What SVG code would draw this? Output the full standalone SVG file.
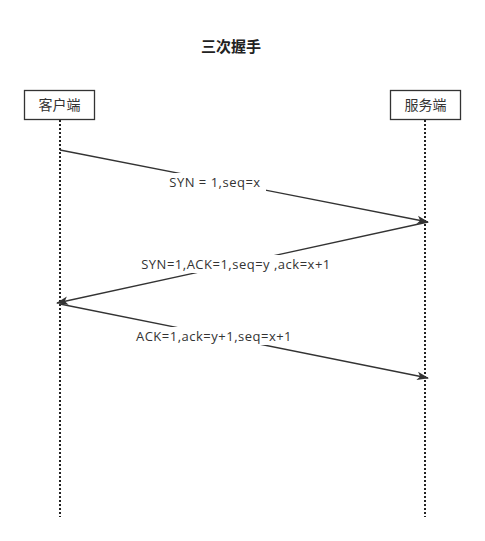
<svg xmlns="http://www.w3.org/2000/svg" width="485" height="541" viewBox="0 0 485 541">
<style>
.box{fill:#fff;stroke:#333;stroke-width:1.3}
.life{stroke:#222;stroke-width:2;stroke-dasharray:2 2;fill:none}
.msg{stroke:#333;stroke-width:1.3;fill:none;marker-end:url(#ah)}
.t{font-family:"Open Sans","Noto Sans","Noto Sans CJK SC",sans-serif;font-size:13px;letter-spacing:0.5px;fill:#333;text-anchor:middle}
.n{font-family:"Noto Sans CJK SC",sans-serif;font-size:14px;fill:#333;text-anchor:middle}
.lbl{fill:#fff}
.title{font-family:"Noto Sans CJK SC",sans-serif;font-size:15px;font-weight:bold;fill:#222;text-anchor:middle}
</style>
<defs>
<marker id="ah" viewBox="0 0 12 10" refX="11" refY="5" markerWidth="12" markerHeight="10" markerUnits="userSpaceOnUse" orient="auto">
<path d="M0,0.8 L12,5 L0,9.2 L3,5 Z" fill="#333"/>
</marker>
</defs>
<rect width="485" height="541" fill="#fff"/>
<text class="title" x="231" y="52">三次握手</text>
<g id="client">
<line class="life" x1="60" y1="120" x2="60" y2="517"/>
<rect class="box" x="24.5" y="90.5" width="70" height="29"/>
<text class="n" x="59.5" y="110">客户端</text>
</g>
<g id="server">
<line class="life" x1="425" y1="120" x2="425" y2="517"/>
<rect class="box" x="390.5" y="90.5" width="70" height="29"/>
<text class="n" x="425.5" y="110">服务端</text>
</g>
<g id="connectors">
<line class="msg" x1="60" y1="150" x2="428" y2="222"/>
<rect class="lbl" x="164" y="173" width="102" height="18"/>
<text class="t" x="215" y="187">SYN = 1,seq=x</text>
<line class="msg" x1="428" y1="222" x2="57" y2="303"/>
<rect class="lbl" x="136" y="255" width="200" height="18"/>
<text class="t" x="236" y="269">SYN=1,ACK=1,seq=y ,ack=x+1</text>
<line class="msg" x1="60" y1="304" x2="428" y2="378"/>
<rect class="lbl" x="130" y="327" width="168" height="18"/>
<text class="t" x="214" y="341">ACK=1,ack=y+1,seq=x+1</text>
</g>
</svg>
